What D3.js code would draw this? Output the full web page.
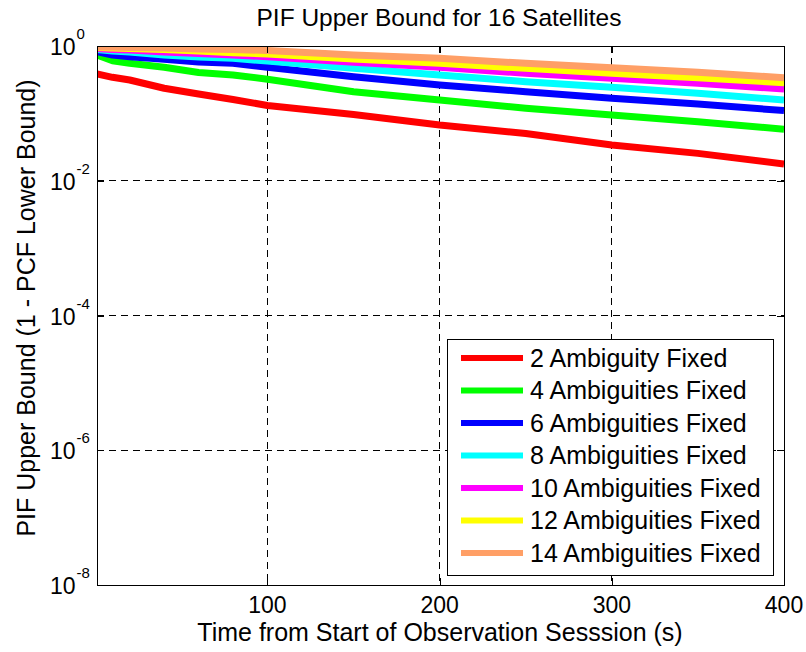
<!DOCTYPE html>
<html>
<head>
<meta charset="utf-8">
<script src="https://cdn.jsdelivr.net/npm/d3@7/dist/d3.min.js"></script>
<style>
  html, body { margin: 0; padding: 0; background: #fff; }
  svg { display: block; }
  text { font-family: "Liberation Sans", Arial, Helvetica, sans-serif; fill: #000; }
</style>
</head>
<body>
<svg id="chart" width="806" height="652"></svg>
<script>
// Observation time (s)
const time = [1, 10, 20, 40, 60, 80, 100, 150, 200, 250, 300, 350, 400];

// PIF upper bound (1 - PCF lower bound) for each number of fixed ambiguities
const fixed2  = [0.384, 0.343, 0.313, 0.236, 0.194, 0.161, 0.131, 0.0964, 0.0671, 0.0502, 0.0340, 0.0255, 0.0177];
const fixed4  = [0.735, 0.605, 0.553, 0.483, 0.405, 0.372, 0.321, 0.210, 0.158, 0.119, 0.0946, 0.0752, 0.0581];
const fixed6  = [0.822, 0.735, 0.693, 0.635, 0.579, 0.553, 0.483, 0.350, 0.264, 0.210, 0.168, 0.138, 0.110];
const fixed8  = [0.887, 0.843, 0.815, 0.735, 0.687, 0.656, 0.598, 0.467, 0.372, 0.295, 0.244, 0.199, 0.158];
const fixed10 = [0.918, 0.887, 0.873, 0.815, 0.774, 0.735, 0.693, 0.573, 0.483, 0.394, 0.332, 0.279, 0.230];
const fixed12 = [0.951, 0.933, 0.918, 0.887, 0.843, 0.796, 0.760, 0.641, 0.553, 0.467, 0.394, 0.339, 0.285];
const fixed14 = [0.966, 0.966, 0.951, 0.933, 0.902, 0.887, 0.857, 0.735, 0.656, 0.553, 0.476, 0.407, 0.339];

const seriesNames = [
  "2 Ambiguity Fixed", "4 Ambiguities Fixed", "6 Ambiguities Fixed",
  "8 Ambiguities Fixed", "10 Ambiguities Fixed", "12 Ambiguities Fixed",
  "14 Ambiguities Fixed"
];
const seriesValues = [fixed2, fixed4, fixed6, fixed8, fixed10, fixed12, fixed14];
const seriesColors = ["#ff0000", "#00ff00", "#0000ff", "#00ffff", "#ff00ff", "#ffff00", "#ff9f66"];

const xTicks = [100, 200, 300, 400];
const yTickExponents = [0, -2, -4, -6, -8];

const titleText = "PIF Upper Bound for 16 Satellites";
const xLabelText = "Time from Start of Observation Sesssion (s)";
const yLabelText = "PIF Upper Bound (1 - PCF Lower Bound)";

// ---- layout ----
const svg = d3.select("#chart");
const plot = { left: 97, right: 784, top: 46, bottom: 585 };

const x = d3.scaleLinear().domain([1, 400]).range([plot.left, plot.right]);
const y = d3.scaleLog().domain([1e-8, 1]).range([plot.bottom, plot.top]);

// grid
const grid = svg.append("g").attr("stroke", "#000").attr("stroke-width", 1)
  .attr("stroke-dasharray", "7,5").attr("shape-rendering", "crispEdges");
xTicks.filter(t => t < 400).forEach(t => {
  grid.append("line").attr("x1", x(t)).attr("x2", x(t))
    .attr("y1", plot.top).attr("y2", plot.bottom);
});
yTickExponents.filter(e => e !== 0 && e !== -8).forEach(e => {
  grid.append("line").attr("x1", plot.left).attr("x2", plot.right)
    .attr("y1", y(Math.pow(10, e))).attr("y2", y(Math.pow(10, e)));
});

// curves
svg.append("defs").append("clipPath").attr("id", "plotClip")
  .append("rect").attr("x", plot.left).attr("y", plot.top)
  .attr("width", plot.right - plot.left).attr("height", plot.bottom - plot.top);

const line = d3.line().x(d => x(d[0])).y(d => y(d[1]));
const curves = svg.append("g").attr("clip-path", "url(#plotClip)");
seriesValues.forEach((vals, i) => {
  curves.append("path")
    .datum(time.map((t, k) => [t, vals[k]]))
    .attr("d", line)
    .attr("fill", "none")
    .attr("stroke", seriesColors[i])
    .attr("stroke-width", 7)
    .attr("stroke-linejoin", "round");
});

// axes box and inward ticks
const axes = svg.append("g").attr("shape-rendering", "crispEdges");
axes.append("rect").attr("x", plot.left).attr("y", plot.top)
  .attr("width", plot.right - plot.left).attr("height", plot.bottom - plot.top)
  .attr("fill", "none").attr("stroke", "#000").attr("stroke-width", 1);

const tickLen = 7;
const xAxisBottom = d3.axisBottom(x).tickValues(xTicks).tickSizeInner(-tickLen).tickSizeOuter(0).tickFormat("");
const xAxisTop = d3.axisTop(x).tickValues(xTicks).tickSizeInner(-tickLen).tickSizeOuter(0).tickFormat("");
const yTickVals = yTickExponents.map(e => Math.pow(10, e));
const yAxisLeft = d3.axisLeft(y).tickValues(yTickVals).tickSizeInner(-tickLen).tickSizeOuter(0).tickFormat("");
const yAxisRight = d3.axisRight(y).tickValues(yTickVals).tickSizeInner(-tickLen).tickSizeOuter(0).tickFormat("");

[[xAxisBottom, `translate(0,${plot.bottom})`], [xAxisTop, `translate(0,${plot.top})`],
 [yAxisLeft, `translate(${plot.left},0)`], [yAxisRight, `translate(${plot.right},0)`]]
  .forEach(([ax, tr]) => {
    const g = axes.append("g").attr("transform", tr).call(ax);
    g.select(".domain").remove();
    g.selectAll("line").attr("stroke", "#000");
  });

// x tick labels
svg.append("g").selectAll("text").data(xTicks).join("text")
  .attr("x", d => x(d)).attr("y", plot.bottom + 28)
  .attr("text-anchor", "middle").attr("font-size", 23)
  .text(d => d);

// y tick labels 10^n
const yLab = svg.append("g");
yTickExponents.forEach(e => {
  const ty = y(Math.pow(10, e));
  yLab.append("text").attr("x", 75.5).attr("y", ty + 9)
    .attr("text-anchor", "end").attr("font-size", 23).text("10");
  yLab.append("text").attr("x", 76.5).attr("y", ty - 7)
    .attr("text-anchor", "start").attr("font-size", 15).text(e === 0 ? "0" : "-" + Math.abs(e));
});

// titles
svg.append("text").attr("x", 439).attr("y", 26).attr("text-anchor", "middle")
  .attr("font-size", 24.5).text(titleText);
svg.append("text").attr("x", 440).attr("y", 641).attr("text-anchor", "middle")
  .attr("font-size", 25).text(xLabelText);
svg.append("text").attr("transform", "translate(35,308) rotate(-90)")
  .attr("text-anchor", "middle").attr("font-size", 25).text(yLabelText);

// legend
const legend = { x: 447, y: 339, w: 326, h: 236, rowTop: 358, rowStep: 32.5 };
const lg = svg.append("g");
lg.append("rect").attr("x", legend.x).attr("y", legend.y)
  .attr("width", legend.w).attr("height", legend.h)
  .attr("fill", "#fff").attr("stroke", "#000").attr("stroke-width", 1)
  .attr("shape-rendering", "crispEdges");
seriesNames.forEach((name, i) => {
  const ry = legend.rowTop + i * legend.rowStep;
  lg.append("line").attr("x1", 461).attr("x2", 523).attr("y1", ry).attr("y2", ry)
    .attr("stroke", seriesColors[i]).attr("stroke-width", 6);
  lg.append("text").attr("x", 530).attr("y", ry + 8.5)
    .attr("font-size", 25).text(name);
});
</script>
</body>
</html>
